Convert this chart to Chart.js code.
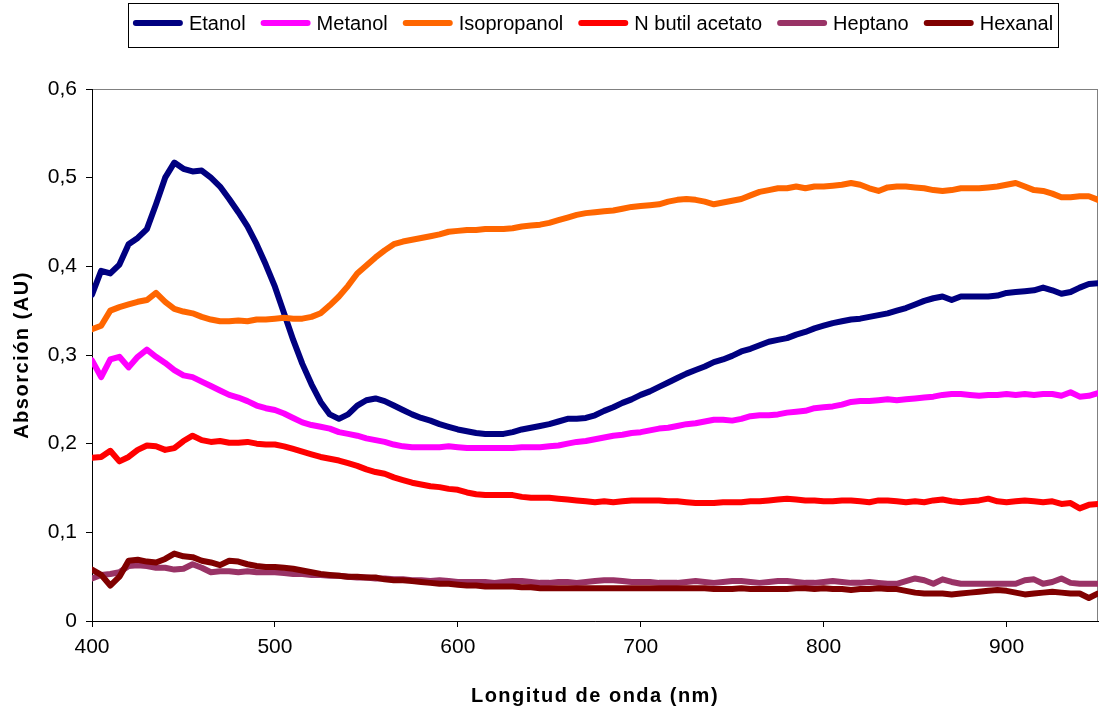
<!DOCTYPE html>
<html>
<head>
<meta charset="utf-8">
<script src="https://cdn.jsdelivr.net/npm/chart.js@4.4.1/dist/chart.umd.min.js"></script>
<style>
  html, body { margin: 0; padding: 0; background: #fff; }
</style>
</head>
<body>
<canvas id="spectra" width="1099" height="710"></canvas>
<script>
// wavelength (nm) and absorbance (AU), every 5 nm
const wavelengths = [400,405,410,415,420,425,430,435,440,445,450,455,460,465,470,475,480,485,490,495,
  500,505,510,515,520,525,530,535,540,545,550,555,560,565,570,575,580,585,590,595,
  600,605,610,615,620,625,630,635,640,645,650,655,660,665,670,675,680,685,690,695,
  700,705,710,715,720,725,730,735,740,745,750,755,760,765,770,775,780,785,790,795,
  800,805,810,815,820,825,830,835,840,845,850,855,860,865,870,875,880,885,890,895,
  900,905,910,915,920,925,930,935,940,945,950];

const etanol = [0.368,0.395,0.392,0.402,0.425,0.432,0.442,0.470,0.500,0.517,0.510,0.507,0.508,0.500,0.490,0.476,0.461,0.445,0.425,0.402,
  0.377,0.347,0.317,0.290,0.267,0.247,0.233,0.228,0.233,0.243,0.249,0.251,0.248,0.243,0.238,0.233,0.229,0.226,0.222,0.219,
  0.216,0.214,0.212,0.211,0.211,0.211,0.213,0.216,0.218,0.220,0.222,0.225,0.228,0.228,0.229,0.232,0.237,0.241,0.246,0.250,
  0.255,0.259,0.264,0.269,0.274,0.279,0.283,0.287,0.292,0.295,0.299,0.304,0.307,0.311,0.315,0.317,0.319,0.323,0.326,0.330,
  0.333,0.336,0.338,0.340,0.341,0.343,0.345,0.347,0.350,0.353,0.357,0.361,0.364,0.366,0.362,0.366,0.366,0.366,0.366,0.367,
  0.370,0.371,0.372,0.373,0.376,0.373,0.369,0.371,0.376,0.380,0.381];

const metanol = [0.294,0.275,0.295,0.298,0.286,0.298,0.306,0.298,0.291,0.283,0.277,0.275,0.270,0.265,0.260,0.255,0.252,0.248,0.243,0.240,
  0.238,0.234,0.229,0.224,0.221,0.219,0.217,0.213,0.211,0.209,0.206,0.204,0.202,0.199,0.197,0.196,0.196,0.196,0.196,0.197,
  0.196,0.195,0.195,0.195,0.195,0.195,0.195,0.196,0.196,0.196,0.197,0.198,0.200,0.202,0.203,0.205,0.207,0.209,0.210,0.212,
  0.213,0.215,0.217,0.218,0.220,0.222,0.223,0.225,0.227,0.227,0.226,0.228,0.231,0.232,0.232,0.233,0.235,0.236,0.237,0.240,
  0.241,0.242,0.244,0.247,0.248,0.248,0.249,0.250,0.249,0.250,0.251,0.252,0.253,0.255,0.256,0.256,0.255,0.254,0.255,0.255,
  0.256,0.255,0.256,0.255,0.256,0.256,0.254,0.258,0.253,0.254,0.257];

const isopropanol = [0.329,0.333,0.350,0.354,0.357,0.360,0.362,0.370,0.360,0.352,0.349,0.347,0.343,0.340,0.338,0.338,0.339,0.338,0.340,0.340,
  0.341,0.342,0.341,0.341,0.343,0.347,0.356,0.366,0.378,0.392,0.401,0.410,0.418,0.425,0.428,0.430,0.432,0.434,0.436,0.439,
  0.440,0.441,0.441,0.442,0.442,0.442,0.443,0.445,0.446,0.447,0.449,0.452,0.455,0.458,0.460,0.461,0.462,0.463,0.465,0.467,
  0.468,0.469,0.470,0.473,0.475,0.476,0.475,0.473,0.470,0.472,0.474,0.476,0.480,0.484,0.486,0.488,0.488,0.490,0.488,0.490,
  0.490,0.491,0.492,0.494,0.492,0.488,0.485,0.489,0.490,0.490,0.489,0.488,0.486,0.485,0.486,0.488,0.488,0.488,0.489,0.490,
  0.492,0.494,0.490,0.486,0.485,0.482,0.478,0.478,0.479,0.479,0.475];

const butilAcetato = [0.184,0.185,0.192,0.180,0.185,0.193,0.198,0.197,0.193,0.195,0.203,0.209,0.204,0.202,0.203,0.201,0.201,0.202,0.200,0.199,
  0.199,0.197,0.194,0.191,0.188,0.185,0.183,0.181,0.178,0.175,0.171,0.168,0.166,0.162,0.159,0.156,0.154,0.152,0.151,0.149,
  0.148,0.145,0.143,0.142,0.142,0.142,0.142,0.140,0.139,0.139,0.139,0.138,0.137,0.136,0.135,0.134,0.135,0.134,0.135,0.136,
  0.136,0.136,0.136,0.135,0.135,0.134,0.133,0.133,0.133,0.134,0.134,0.134,0.135,0.135,0.136,0.137,0.138,0.137,0.136,0.136,
  0.135,0.135,0.136,0.136,0.135,0.134,0.136,0.136,0.135,0.134,0.135,0.134,0.136,0.137,0.135,0.134,0.135,0.136,0.138,0.135,
  0.134,0.135,0.136,0.135,0.134,0.135,0.132,0.133,0.127,0.131,0.132];

const heptano = [0.048,0.052,0.053,0.055,0.062,0.063,0.062,0.060,0.060,0.058,0.059,0.064,0.060,0.055,0.056,0.056,0.055,0.056,0.055,0.055,
  0.055,0.054,0.053,0.053,0.052,0.052,0.051,0.051,0.050,0.049,0.049,0.048,0.048,0.047,0.047,0.046,0.046,0.045,0.046,0.045,
  0.044,0.044,0.044,0.044,0.043,0.044,0.045,0.045,0.044,0.043,0.043,0.044,0.044,0.043,0.044,0.045,0.046,0.046,0.045,0.044,
  0.044,0.044,0.043,0.043,0.043,0.044,0.045,0.044,0.043,0.044,0.045,0.045,0.044,0.043,0.044,0.045,0.045,0.044,0.043,0.043,
  0.044,0.045,0.044,0.043,0.043,0.044,0.043,0.042,0.042,0.045,0.048,0.046,0.042,0.047,0.044,0.042,0.042,0.042,0.042,0.042,
  0.042,0.042,0.046,0.047,0.042,0.044,0.048,0.043,0.042,0.042,0.042];

const hexanal = [0.058,0.052,0.040,0.050,0.068,0.069,0.067,0.066,0.070,0.076,0.073,0.072,0.068,0.066,0.063,0.068,0.067,0.064,0.062,0.061,
  0.061,0.060,0.059,0.057,0.055,0.053,0.052,0.051,0.050,0.050,0.049,0.049,0.047,0.046,0.046,0.045,0.044,0.043,0.042,0.042,
  0.041,0.040,0.040,0.039,0.039,0.039,0.039,0.038,0.038,0.037,0.037,0.037,0.037,0.037,0.037,0.037,0.037,0.037,0.037,0.037,
  0.037,0.037,0.037,0.037,0.037,0.037,0.037,0.037,0.036,0.036,0.036,0.037,0.036,0.036,0.036,0.036,0.036,0.037,0.037,0.036,
  0.037,0.036,0.036,0.035,0.036,0.036,0.037,0.036,0.036,0.034,0.032,0.031,0.031,0.031,0.030,0.031,0.032,0.033,0.034,0.035,
  0.034,0.032,0.030,0.031,0.032,0.033,0.032,0.031,0.031,0.026,0.031];

const seriesNames = ['Etanol', 'Metanol', 'Isopropanol', 'N butil acetato', 'Heptano', 'Hexanal'];
const seriesValues = [etanol, metanol, isopropanol, butilAcetato, heptano, hexanal];
const seriesColors = ['#000080', '#ff00ff', '#ff6600', '#ff0000', '#993366', '#800000'];

const xTickLabels = ['400', '500', '600', '700', '800', '900'];
const yTickLabels = ['0', '0,1', '0,2', '0,3', '0,4', '0,5', '0,6'];
const xTitle = 'Longitud de onda (nm)';
const yTitle = 'Absorción (AU)';

const FONT = '"Liberation Sans", Arial, sans-serif';

// gray frame round the plot area (left/bottom get the black axis lines on top)
const plotFrame = {
  id: 'plotFrame',
  beforeDraw(chart) {
    const { ctx, chartArea: a } = chart;
    ctx.save();
    ctx.strokeStyle = '#808080';
    ctx.lineWidth = 1;
    ctx.strokeRect(a.left + 0.5, a.top + 0.5, a.right - a.left - 1, a.bottom - a.top);
    ctx.restore();
  }
};

// boxed legend and the spaced bold axis titles
const legendAndTitles = {
  id: 'legendAndTitles',
  afterDraw(chart) {
    const { ctx, chartArea: a } = chart;
    const sets = chart.data.datasets;
    ctx.save();

    const boxL = 128, boxR = 1058, boxT = 3, boxB = 47;
    ctx.strokeStyle = '#000';
    ctx.lineWidth = 1;
    ctx.strokeRect(boxL + 0.5, boxT + 0.5, boxR - boxL, boxB - boxT);

    ctx.font = '20px ' + FONT;
    const sample = 50, textGap = 6, itemGap = 15;
    const widths = sets.map(d => ctx.measureText(d.label).width);
    const total = widths.reduce((s, w) => s + sample + textGap + w, 0) + itemGap * (sets.length - 1);
    let x = (boxL + boxR) / 2 - total / 2;
    const cy = 23;
    ctx.textBaseline = 'middle';
    ctx.textAlign = 'left';
    sets.forEach((d, i) => {
      ctx.strokeStyle = d.borderColor;
      ctx.lineWidth = 6;
      ctx.lineCap = 'round';
      ctx.beginPath();
      ctx.moveTo(x + 3, cy);
      ctx.lineTo(x + sample - 3, cy);
      ctx.stroke();
      ctx.fillStyle = '#000';
      ctx.fillText(d.label, x + sample + textGap, cy + 1);
      x += sample + textGap + widths[i] + itemGap;
    });

    ctx.font = 'bold 20px ' + FONT;
    ctx.letterSpacing = '1.5px';
    ctx.fillStyle = '#000';
    ctx.textAlign = 'center';
    ctx.textBaseline = 'alphabetic';
    ctx.fillText(xTitle, (a.left + a.right) / 2, 702);

    ctx.translate(27.5, (a.top + a.bottom) / 2);
    ctx.rotate(-Math.PI / 2);
    ctx.fillText(yTitle, 0, 0);
    ctx.restore();
  }
};

new Chart(document.getElementById('spectra'), {
  type: 'line',
  data: {
    datasets: seriesNames.map((name, i) => ({
      label: name,
      data: wavelengths.map((w, k) => ({ x: w, y: seriesValues[i][k] })),
      borderColor: seriesColors[i],
      backgroundColor: seriesColors[i],
      borderWidth: 6,
      borderJoinStyle: 'round',
      borderCapStyle: 'round',
      pointRadius: 0,
      tension: 0,
      order: seriesNames.length - i
    }))
  },
  options: {
    responsive: false,
    animation: false,
    layout: { padding: { top: 89, right: 1, left: 0, bottom: 0 } },
    plugins: { legend: { display: false }, tooltip: { enabled: false } },
    scales: {
      x: {
        type: 'linear',
        min: 400,
        max: 950,
        afterFit(scale) { scale.height = 89; },
        ticks: {
          stepSize: 100,
          includeBounds: false,
          color: '#000',
          padding: 8,
          maxRotation: 0,
          font: { family: FONT, size: 21 },
          callback: (v, i) => xTickLabels[i]
        },
        grid: { drawOnChartArea: false, drawTicks: true, tickLength: 6, color: '#000' },
        border: { color: '#000', width: 1 }
      },
      y: {
        min: 0,
        max: 0.6,
        afterFit(scale) { scale.width = 92; },
        ticks: {
          stepSize: 0.1,
          color: '#000',
          padding: 9,
          font: { family: FONT, size: 21 },
          callback: (v, i) => yTickLabels[i]
        },
        grid: { drawOnChartArea: false, drawTicks: true, tickLength: 6, color: '#000' },
        border: { color: '#000', width: 1 }
      }
    }
  },
  plugins: [plotFrame, legendAndTitles]
});
</script>
</body>
</html>
